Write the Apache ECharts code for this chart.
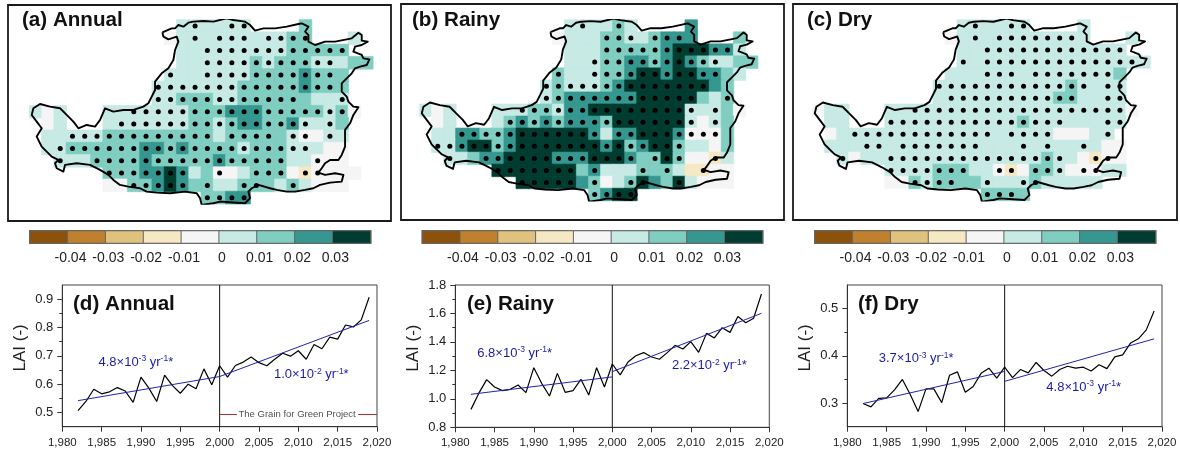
<!DOCTYPE html>
<html><head><meta charset="utf-8">
<style>html,body{margin:0;padding:0;background:#fff}#c{width:1180px;height:453px}</style>
<script src="https://cdn.jsdelivr.net/npm/echarts@6/dist/echarts.min.js"></script>
</head><body><div id="c"></div>
<script>
// ---------- DATA ----------
const palette = ['#8c510a','#bf812d','#dfc27d','#f6e8c3','#f5f5f5','#c7eae5','#80cdc1','#35978f','#003c30'];
const colourTicks = [-0.04,-0.03,-0.02,-0.01,0,0.01,0.02,0.03];
const years = [1982,1983,1984,1985,1986,1987,1988,1989,1990,1991,1992,1993,1994,1995,1996,1997,1998,1999,2000,2001,2002,2003,2004,2005,2006,2007,2008,2009,2010,2011,2012,2013,2014,2015,2016,2017,2018,2019];
const annualLAI = [.507,.539,.582,.566,.573,.588,.576,.536,.625,.586,.539,.632,.595,.568,.6,.584,.654,.598,.665,.625,.666,.678,.696,.676,.665,.688,.709,.699,.718,.688,.74,.725,.766,.759,.809,.802,.827,.907];
const rainyLAI = [.926,1.04,1.135,1.083,1.058,1.067,1.097,1.044,1.219,1.109,1.02,1.179,1.046,1.058,1.137,1.027,1.219,1.083,1.245,1.168,1.259,1.303,1.325,1.294,1.278,1.325,1.376,1.35,1.402,1.327,1.46,1.428,1.5,1.467,1.578,1.535,1.566,1.737];
const dryLAI = [.299,.292,.31,.311,.328,.35,.318,.282,.33,.33,.301,.359,.366,.323,.335,.363,.374,.353,.376,.354,.371,.364,.386,.369,.357,.371,.378,.374,.376,.368,.381,.373,.398,.402,.427,.436,.455,.495];
const annualTrendPre = [[1982,.542],[2000,.627]], annualTrendPost = [[2000,.627],[2019,.825]];
const rainyTrendPre = [[1982,1.032],[2000,1.154]], rainyTrendPost = [[2000,1.191],[2019,1.601]];
const dryTrendPre = [[1982,.299],[2000,.367]], dryTrendPost = [[2000,.346],[2019,.436]];

const annualCells = [
"............555555....6.....",
"...........455555555566...5.",
"............55555555566666..",
"............5555556566655566",
"...........555555566667666..",
"..........5555555666667666..",
"..........5566655666666555..",
"545...555555566677766666564.",
".45...55555556656776675556..",
".5555566666666656666654455..",
".5566666677676666566655544..",
"..555666676666676666655444..",
"......666778756445666434444.",
"......44667876655666565444..",
"..............6677.........."];
const rainyCells = [
"............555565....7.....",
"...........455566556777...6.",
"............555666667888775.",
"............5556677678765566",
"...........6555667887887765.",
"..........5655567888888876..",
"..........5677777788888656..",
"545...555665778888888855564.",
".45...56767677768888885456..",
".5577667888888757788874446..",
".5578867888888878678865546..",
"..556778888777888766864435..",
"......88888886755566653344..",
"........888887645687685444..",
"..............6788.........."];
const dryCells = [
"............555555....5.....",
"...........455555555555...5.",
"............55555555555555..",
"............5555555555555555",
"...........555555555555556..",
"..........5555555555565555..",
"..........5555555555665555..",
"455...555555555555555555554.",
".55...55555555555655555555..",
".455555555555555555544455...",
".5555555555555555555555544..",
"..545555555555555556554344..",
"......55556665543466544455..",
"......446566665555655555....",
"..............6666.........."];

const annualDots = [
[13,16,17],[13,15,16,17,19,20,21,22],[14,15,16,17,18,19,20,21,22,23,24,25],[14,15,16,17,18,19,20,21,22,23,24],
[11,14,15,16,17,18,19,20,21,22,23,24],[10,11,12,13,14,15,16,17,18,19,20,21,22,23,24],[10,11,12,13,14,15,16,17,18,19,20,21,25],
[8,9,10,11,12,13,14,15,16,17,18,19,20,21,22,23,24,25],[7,8,9,10,11,12,13,14,15,16,17,18,19,20,21,22,24],
[3,4,5,6,7,8,9,10,11,12,13,14,16,17,18,19,21,22,24],[2,3,4,5,6,7,8,9,10,11,12,13,14,15,16,17,18,19,20,21,22],
[2,5,6,7,8,9,10,11,12,13,14,15,16,17,18,19,20,23],[6,7,8,9,10,11,12,15,18,19,20,22,23],[8,9,10,11,12,14,17,18,21],[14,15,16,17]];
const rainyDots = [
[13,16],[15,16,17,19,20,21],[15,16,17,18,19,20,21,22,23,24,25],[14,15,16,17,18,19,20,21,22,23,24],
[11,14,15,16,17,18,19,20,21,22,23,24],[10,11,12,13,14,15,16,17,18,19,20,21,22,23],[10,11,12,13,14,15,16,17,18,19,20,21,22,25],
[8,9,10,11,12,13,14,15,16,17,18,19,20,21,22,24],[7,8,9,10,11,12,13,14,15,16,17,18,19,20,21,22,24],
[3,4,5,6,7,8,9,10,11,12,13,14,16,17,18,19,20,21,22,23,24],[1,2,3,4,5,6,7,8,9,10,11,12,13,14,15,16,17,18,19,20,21],
[2,5,6,7,8,9,10,11,12,13,14,15,16,17,19,20,21,24],[6,7,8,9,10,11,12,14,18,20,23],[8,9,10,11,12,14,17,18,21],[14,15,16,17]];
const dryDots = [
[13,16,17],[13,15,16,17,18,19,20,21],[14,15,16,17,18,19,20,21,22,23,24,25],[12,14,15,16,17,18,19,20,21,22,23,24,25,26],
[14,15,16,18,19,20,21,22,23,24],[10,11,12,13,14,15,16,17,18,19,20,21,22,24,25],[11,12,13,14,15,16,17,18,19,20,21,24,25],
[8,9,10,11,12,13,14,15,16,17,18,19,20,21,22,23,24,25],[6,7,8,9,10,11,12,13,14,15,16,17,18,19,20,24,25],
[3,4,5,6,7,8,9,10,11,12,13,14,16,17,18,19,24],[4,5,7,8,9,10,11,12,13,17,19,22],
[2,6,7,8,9,10,11,12,13,14,15,16,17,18,19,20,23,24],[6,7,8,9,10,11,12,15,16,18,19,20,22,23],[8,9,10,11,14,17,18],[14,15,16]];

// Region boundary, in map units
const boundary = [[487,97],[515,85],[525,85],[535,75],[550,80],[565,68],[580,65],[610,63],[640,65],[680,55],[700,60],[735,65],[750,75],[765,92],[790,85],[825,85],[860,80],[895,72],[905,70],[925,80],[915,95],[925,105],[925,125],[945,135],[975,125],[1005,125],[1040,118],[1055,115],[1075,98],[1085,105],[1085,122],[1103,125],[1085,135],[1065,140],[1060,155],[1085,165],[1090,175],[1108,178],[1100,195],[1080,200],[1065,205],[1055,220],[1040,235],[1025,250],[1025,275],[1040,290],[1045,305],[1060,320],[1075,322],[1060,345],[1050,370],[1035,390],[1035,410],[1035,440],[1025,465],[1015,480],[990,480],[975,490],[965,505],[955,518],[975,525],[1005,520],[1030,525],[1025,545],[990,548],[960,555],[940,565],[915,570],[885,575],[860,575],[830,570],[810,565],[775,555],[755,565],[745,575],[750,595],[735,610],[700,608],[660,605],[640,610],[605,615],[600,595],[590,580],[555,575],[510,580],[470,578],[440,575],[420,565],[385,560],[360,555],[340,540],[325,525],[300,510],[270,495],[230,490],[195,495],[190,515],[170,505],[165,490],[175,480],[155,470],[125,440],[110,410],[125,385],[110,365],[95,345],[100,325],[120,312],[150,320],[180,325],[200,345],[220,365],[235,385],[260,375],[285,380],[300,360],[315,325],[340,335],[370,330],[400,330],[430,320],[445,310],[455,290],[465,270],[465,245],[485,220],[505,205],[520,180],[525,150],[535,125],[530,110],[505,118],[490,110],[487,97]];

// ---------- BUILD ----------
const FONT = '"Liberation Sans", Arial, sans-serif';
const option = {animation:false, backgroundColor:'#fff', textStyle:{fontFamily:FONT},
  title:[], grid:[], xAxis:[], yAxis:[], series:[], graphic:[]};
const hidden = {show:false};

function addTitle(text,left,top){
  option.title.push({text,left,top,padding:0,textStyle:{fontFamily:FONT,fontWeight:'bold',fontSize:20.6,color:'#111'}});
}
function addMap(cells,dots,g,frame,title,tx){
  option.graphic.push({type:'rect',z:-1,shape:{x:frame[0],y:frame[1],width:frame[2],height:frame[3]},
    style:{fill:'#fff',stroke:'#1a1a1a',lineWidth:1.8}});
  addTitle(title,tx,10);
  const gi=option.grid.length; option.grid.push({left:g[0],top:g[1],width:g[2],height:g[3],show:false});
  const xc=option.xAxis.length, yc=option.yAxis.length;
  const cols=Array.from({length:28},(_,i)=>i), rows=Array.from({length:15},(_,i)=>i);
  option.xAxis.push({type:'category',gridIndex:gi,data:cols,show:false});
  option.yAxis.push({type:'category',gridIndex:gi,data:rows,inverse:true,show:false});
  option.xAxis.push({type:'value',gridIndex:gi,min:88.6,max:1118.4,show:false,splitLine:hidden});
  option.yAxis.push({type:'value',gridIndex:gi,min:59.6,max:611.6,inverse:true,show:false,splitLine:hidden});
  const hd=[];
  cells.forEach((s,r)=>{for(let c=0;c<s.length;c++){const ch=s[c]; if(ch!=='.') hd.push({value:[c,r,+ch],itemStyle:{color:palette[+ch],borderColor:palette[+ch],borderWidth:0.6}});}});
  option.series.push({type:'heatmap',xAxisIndex:xc,yAxisIndex:yc,data:hd,z:1,emphasis:{disabled:true},progressive:0});
  option.series.push({type:'line',xAxisIndex:xc+1,yAxisIndex:yc+1,data:boundary,symbol:'none',z:2,
    lineStyle:{color:'#000',width:1.9,join:'round'}});
  const pts=[]; dots.forEach((l,r)=>l.forEach(c=>pts.push([c,r])));
  option.series.push({type:'scatter',xAxisIndex:xc,yAxisIndex:yc,data:pts,symbolSize:5,z:3,itemStyle:{color:'#000',opacity:1}});
}
function addBar(left,width){
  const gi=option.grid.length;
  option.grid.push({left,top:231,width,height:12,show:true,backgroundColor:'#666',borderColor:'#666',borderWidth:2});
  const xc=option.xAxis.length,yc=option.yAxis.length;
  option.xAxis.push({type:'category',gridIndex:gi,data:palette.map((_,i)=>i),show:false});
  option.yAxis.push({type:'category',gridIndex:gi,data:[0],show:false});
  option.xAxis.push({type:'value',gridIndex:gi,min:-0.0507,max:0.0393,position:'bottom',
    axisLine:hidden,axisTick:hidden,splitLine:hidden,
    axisLabel:{show:true,customValues:colourTicks,fontSize:14,color:'#222',margin:8,fontFamily:FONT,hideOverlap:false}});
  option.series.push({type:'heatmap',xAxisIndex:xc,yAxisIndex:yc,
    data:palette.map((col,i)=>({value:[i,0,i],itemStyle:{color:col}})),
    itemStyle:{borderColor:'#666',borderWidth:1},emphasis:{disabled:true}});
}
function addLine(g,cfg){
  const gi=option.grid.length;
  option.grid.push({left:g[0],top:g[1],width:g[2],height:g[3],show:true,borderColor:'#444',borderWidth:1,backgroundColor:'transparent'});
  addTitle(cfg.title,cfg.tx,294);
  option.graphic.push({type:'text',x:cfg.nameX,y:g[1]+g[3]/2-8,rotation:Math.PI/2,z:10,
    style:{text:'LAI (-)',font:'17px "Liberation Sans", Arial, sans-serif',fill:'#222',align:'center',verticalAlign:'middle'}});
  const xi=option.xAxis.length, yi=option.yAxis.length;
  option.xAxis.push({type:'value',gridIndex:gi,min:1980,max:2020,interval:5,
    axisLine:{lineStyle:{color:'#333'}},axisTick:{length:5,lineStyle:{color:'#333'}},splitLine:hidden,
    axisLabel:{fontSize:11.5,color:'#222',margin:10,fontFamily:FONT,hideOverlap:false}});
  option.yAxis.push({type:'value',gridIndex:gi,min:cfg.min,max:cfg.max,
    axisLine:{show:true,lineStyle:{color:'#333'}},axisTick:{customValues:cfg.major,length:5,lineStyle:{color:'#333'}},splitLine:hidden,
    axisLabel:{customValues:cfg.major,fontSize:13,color:'#222',margin:9,fontFamily:FONT,formatter:v=>(+v).toFixed(1)}});
  option.yAxis.push({type:'value',gridIndex:gi,min:cfg.min,max:cfg.max,position:'left',
    axisLine:hidden,axisLabel:hidden,splitLine:hidden,axisTick:{show:true,customValues:cfg.minor,length:3,lineStyle:{color:'#333'}}});
  const base={type:'line',xAxisIndex:xi,yAxisIndex:yi,symbol:'none'};
  option.series.push({...base,data:[[2000,cfg.min],[2000,cfg.max]],z:2,lineStyle:{color:'#111',width:1}});
  option.series.push({...base,data:years.map((y,i)=>[y,cfg.values[i]]),z:3,lineStyle:{color:'#000',width:1.2}});
  option.series.push({...base,data:cfg.pre,z:4,lineStyle:{color:'#2222aa',width:1}});
  option.series.push({...base,data:cfg.post,z:4,lineStyle:{color:'#2222aa',width:1}});
  const rich={b:{fontSize:13,color:'#1a1aa8',fontFamily:FONT,lineHeight:16},
              s:{fontSize:8.5,color:'#1a1aa8',fontFamily:FONT,verticalAlign:'top',lineHeight:16,padding:[0,0,6,0]}};
  cfg.notes.forEach(n=>option.series.push({type:'scatter',xAxisIndex:xi,yAxisIndex:yi,symbolSize:0,data:[[n.x,n.y]],z:5,
    itemStyle:{opacity:1},label:{show:true,position:'right',distance:0,formatter:`{b|${n.a}}{s|${n.e}}{b| yr}{s|-1}{b|*}`,rich}}));
  if(cfg.grain){
    option.series.push({...base,data:[[2000,.493],[2002.2,.493]],z:4,lineStyle:{color:'#b03030',width:1}});
    option.series.push({...base,data:[[2017.6,.493],[2020,.493]],z:4,lineStyle:{color:'#b03030',width:1}});
    option.series.push({type:'scatter',xAxisIndex:xi,yAxisIndex:yi,symbolSize:0,data:[[2002.4,.493]],z:5,
      label:{show:true,position:'right',distance:0,formatter:'The Grain for Green Project',fontSize:9.5,color:'#222',fontFamily:FONT}});
  }
}

addMap(annualCells,annualDots,[29.57,19.87,343.3,183.9],[8,5,383,216],'(a) Annual',22);
addMap(rainyCells,rainyDots,[419.67,20,338,180.5],[401,4,383,216],'(b) Rainy',412);
addMap(dryCells,dryDots,[812.67,20,337.4,180.5],[793,4,384,216],'(c) Dry',807);
addBar(30,340.5); addBar(422.5,340); addBar(815,340.5);

addLine([62.3,285,314.7,141.7],{title:'(d) Annual',tx:73,nameX:20,min:.45,max:.95,major:[.5,.6,.7,.8,.9],minor:[.55,.65,.75,.85],
  values:annualLAI,pre:annualTrendPre,post:annualTrendPost,grain:true,
  notes:[{x:1984.6,y:.678,a:'4.8×10',e:'-3'},{x:2006.9,y:.633,a:'1.0×10',e:'-2'}]});
addLine([455.3,285,314,142.3],{title:'(e) Rainy',tx:467,nameX:413,min:.8,max:1.8,major:[.8,1,1.2,1.4,1.6,1.8],minor:[.9,1.1,1.3,1.5,1.7],
  values:rainyLAI,pre:rainyTrendPre,post:rainyTrendPost,
  notes:[{x:1982.8,y:1.32,a:'6.8×10',e:'-3'},{x:2007.6,y:1.233,a:'2.2×10',e:'-2'}]});
addLine([847.3,285,314.7,141.7],{title:'(f) Dry',tx:858,nameX:805,min:.25,max:.55,major:[.3,.4,.5],minor:[.35,.45],
  values:dryLAI,pre:dryTrendPre,post:dryTrendPost,
  notes:[{x:1984,y:.394,a:'3.7×10',e:'-3'},{x:2005.3,y:.333,a:'4.8×10',e:'-3'}]});

const chart=echarts.init(document.getElementById('c'),null,{renderer:'canvas'});
chart.setOption(option);
</script></body></html>
